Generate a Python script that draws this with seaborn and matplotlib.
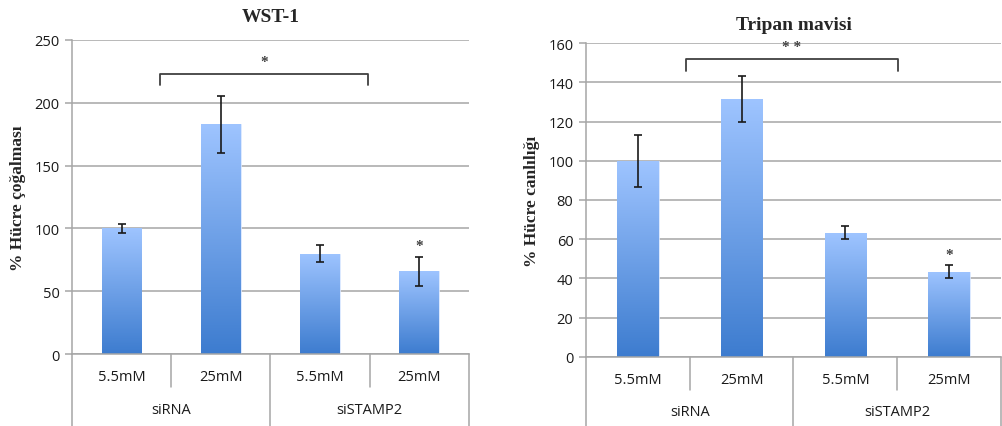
import numpy as np
import pandas as pd
import matplotlib
matplotlib.use("Agg")
import matplotlib.pyplot as plt
import seaborn as sns
from matplotlib.colors import LinearSegmentedColormap

# data
doses = ["5.5mM", "25mM", "5.5mM", "25mM"]
groups = ["siRNA", "siRNA", "siSTAMP2", "siSTAMP2"]
group_names = ["siRNA", "siSTAMP2"]

wst_mean = [100, 183, 80, 66]
wst_err = [3.8, 22.7, 6.5, 11.5]
trip_mean = [100, 131.5, 63.3, 43.4]
trip_err = [13.3, 11.7, 3.2, 3.4]

wst_bracket = (0.39, 2.48, 223, 214, "*")      # x0, x1, top, foot, label
trip_bracket = (0.46, 2.51, 152, 146, "* *")
wst_star = (3, 86)
trip_star = (3, 52)

sns.set_style("white")
plt.rcParams["font.family"] = ["Open Sans", "DejaVu Sans"]

grad = LinearSegmentedColormap.from_list("bar", ["#3d7ccf", "#9ec4ff"])
grid_c = "#a6a6a6"
serif = ["Liberation Serif", "DejaVu Serif"]


def panel(ax, mean, err, ymax, step, title, ylabel, bracket, star, title_pad):
    df = pd.DataFrame({"slot": [f"{g}\n{d}{i}" for i, (g, d) in enumerate(zip(groups, doses))],
                       "val": mean})
    sns.barplot(data=df, x="slot", y="val", ax=ax, width=0.4, errorbar=None,
                color="#6a9ee6", edgecolor="#d6e5ff", linewidth=0.6)
    ax.set_xlim(-0.5, 3.5)
    ax.set_ylim(0, ymax)
    # gradient fill clipped to each bar
    g = np.linspace(0, 1, 256).reshape(-1, 1)
    for p in ax.patches:
        x0, w, h = p.get_x(), p.get_width(), p.get_height()
        im = ax.imshow(g, cmap=grad, origin="lower", aspect="auto",
                       extent=(x0, x0 + w, 0, h), zorder=p.get_zorder() + 0.1)
        im.set_clip_path(p)
        p.set_facecolor("none")
    ax.set_xlim(-0.5, 3.5)
    ax.set_ylim(0, ymax)
    ax.errorbar(range(4), mean, yerr=err, fmt="none", ecolor="#1a1a1a",
                elinewidth=1.2, capsize=3.2, capthick=1.2, zorder=5)

    ax.set_yticks(np.arange(0, ymax + 1, step))
    ax.yaxis.grid(True, color=grid_c, linewidth=1.1)
    ax.set_axisbelow(True)
    ax.tick_params(axis="y", length=5, width=1.1, color=grid_c, pad=4,
                   labelsize=10.5, labelcolor="#1a1a1a", left=True)
    ax.tick_params(axis="x", bottom=False, labelbottom=False)
    for s in ["top", "right"]:
        ax.spines[s].set_visible(False)
    for s in ["left", "bottom"]:
        ax.spines[s].set_color(grid_c)
        ax.spines[s].set_linewidth(1.1)
    ax.set_xlabel("")
    ax.set_ylabel(ylabel, family=serif, fontweight="bold", fontsize=12.5,
                  labelpad=6)
    ax.set_title(title, family=serif, fontweight="bold", fontsize=14,
                 pad=title_pad)

    # category table under the axis
    tr = ax.get_xaxis_transform()
    for xb, depth in [(-0.5, -0.23), (0.5, -0.105), (1.5, -0.23), (2.5, -0.105), (3.5, -0.23)]:
        ax.plot([xb, xb], [0, depth], transform=tr, color=grid_c, lw=1.1,
                clip_on=False)
    for i, d in enumerate(doses):
        ax.text(i, -0.073, d, transform=tr, ha="center", va="center",
                fontsize=10.5, color="#1a1a1a")
    for j, gname in enumerate(group_names):
        ax.text(2 * j + 0.5, -0.176, gname, transform=tr, ha="center",
                va="center", fontsize=10.5, color="#1a1a1a")

    # significance bracket and star
    bx0, bx1, btop, bfoot, blab = bracket
    ax.plot([bx0, bx0, bx1, bx1], [bfoot, btop, btop, bfoot], color="#404040",
            lw=1.3, clip_on=False, zorder=6)
    ax.text((bx0 + bx1) / 2, btop + ymax * 0.02, blab, ha="center",
            va="bottom", fontsize=11, family=serif, fontweight="bold",
            color="#404040")
    ax.text(star[0], star[1], "*", ha="center", va="center", fontsize=11,
            family=serif, fontweight="bold", color="#404040")


fig = plt.figure(figsize=(10.02, 4.27), dpi=100)
ax1 = fig.add_axes([0.0719, 0.1686, 0.3961, 0.7354])
ax2 = fig.add_axes([0.5848, 0.1623, 0.4142, 0.7340])

panel(ax1, wst_mean, wst_err, 250, 50, "WST-1", "% Hücre çoğalması",
      wst_bracket, wst_star, 14)
panel(ax2, trip_mean, trip_err, 160, 20, "Tripan mavisi", "% Hücre canlılığı",
      trip_bracket, trip_star, 10)

fig.savefig("out.png", dpi=100)
